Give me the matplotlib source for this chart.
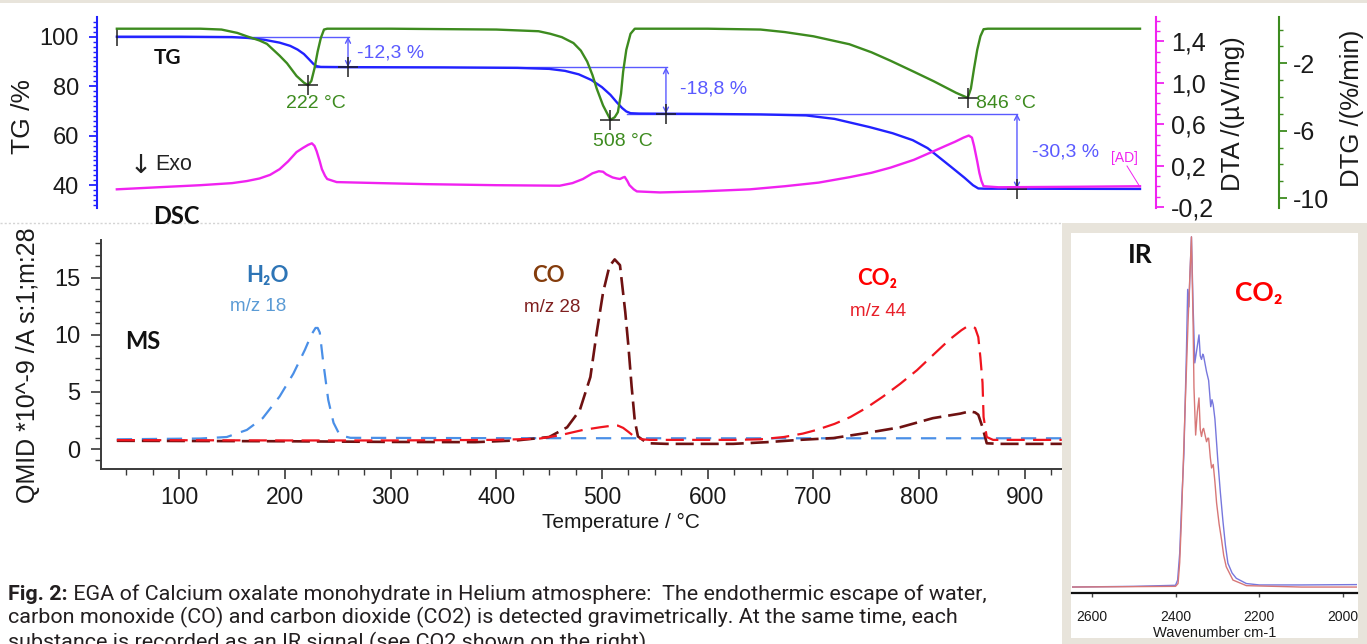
import numpy as np
import matplotlib
matplotlib.use("Agg")
import matplotlib.pyplot as plt
from matplotlib.ticker import MultipleLocator, FixedLocator, FuncFormatter, NullLocator
from matplotlib.patches import Rectangle
from matplotlib.lines import Line2D
from matplotlib.transforms import Bbox, TransformedBbox

plt.rcParams['font.family'] = ['Liberation Sans', 'DejaVu Sans']
plt.rcParams['lines.scale_dashes'] = False

# ---------------- data ----------------
# TG (mass %) vs temperature
tg_T = [41, 100, 150, 165, 180, 195, 205, 212, 218, 223, 227, 230, 234, 260, 350, 420, 450, 465,
        478, 490, 500, 508, 514, 519, 523, 527, 535, 600, 650, 693, 720, 753, 775, 794, 808, 818,
        830, 843, 851, 856, 862, 1009]
tg_val = [100.0, 100.0, 99.85, 99.5, 98.8, 97.6, 96.3, 94.8, 93.0, 90.8, 89.0, 88.1, 87.8, 87.7,
          87.6, 87.4, 87.0, 86.2, 84.8, 82.5, 79.6, 76.5, 73.5, 71.2, 69.8, 69.1, 68.95, 68.8, 68.6,
          68.2, 66.8, 63.5, 61.0, 58.2, 55.0, 51.6, 47.5, 43.0, 40.0, 38.7, 38.6, 38.5]
# DTG (%/min)
dtg_T = [41, 120, 140, 155, 164, 176, 183, 195, 202, 211, 218, 222, 225, 228, 231, 234, 237, 240,
         300, 400, 440, 451, 462, 473, 480, 486, 491, 495, 501, 508, 512, 515, 518, 520, 523, 527,
         531, 600, 650, 673, 700, 734, 755, 773, 795, 814, 835, 846, 849, 852, 855, 858, 861, 865, 1009]
dtg_val = [0.05, 0.05, 0.0, -0.2, -0.4, -0.65, -0.85, -1.55, -2.0, -2.75, -3.15, -3.3, -3.05, -2.3,
           -1.3, -0.5, 0.0, 0.05, 0.05, 0.0, -0.1, -0.25, -0.45, -0.8, -1.25, -1.9, -2.7, -3.5, -4.5,
           -5.35, -5.2, -4.9, -3.8, -2.5, -1.2, -0.25, 0.05, 0.05, 0.0, -0.15, -0.4, -0.87, -1.35,
           -1.85, -2.5, -3.07, -3.75, -4.05, -3.5, -2.3, -1.2, -0.4, 0.02, 0.05, 0.05]
# DTA (uV/mg)
dta_T = [41, 80, 120, 150, 164, 176, 186, 195, 203, 211, 217, 222, 225.5, 228, 230, 233, 235, 238,
         240, 249, 290, 334, 400, 460, 472, 482, 491, 497, 501, 504, 507, 510, 514, 517, 520, 521.5,
         524, 526, 530, 533, 555, 593, 640, 673, 705, 734, 755, 773, 795, 814, 825, 834, 842, 847,
         850, 852, 855, 857, 859, 861, 875, 950, 1009]
dta_val = [-0.03, -0.01, 0.01, 0.03, 0.05, 0.075, 0.11, 0.165, 0.24, 0.33, 0.37, 0.40, 0.415, 0.39,
           0.34, 0.24, 0.165, 0.10, 0.07, 0.04, 0.03, 0.02, 0.01, 0.005, 0.03, 0.07, 0.125, 0.145,
           0.14, 0.115, 0.10, 0.085, 0.075, 0.07, 0.085, 0.09, 0.05, 0.01, -0.03, -0.05, -0.06,
           -0.05, -0.03, 0.0, 0.035, 0.087, 0.13, 0.18, 0.255, 0.34, 0.39, 0.43, 0.47, 0.49, 0.47,
           0.39, 0.24, 0.13, 0.05, 0.0, -0.01, -0.005, 0.0]
# TG evaluation
step_levels = [100.0, 87.7, 68.9, 38.6]
step_labels = ["-12,3 %", "-18,8 %", "-30,3 %"]
step_arrow_T = [259.7, 560.5, 892.6]
tangent_start_T = [41, 228.5, 523.6]
tangent_end_T = [260.6, 561.5, 892.6]
peak_T = [222, 508, 846]
peak_dtg = [-3.3, -5.35, -4.05]
peak_labels = ["222 °C", "508 °C", "846 °C"]

# MS ion currents (10^-9 A)
ms_h2o_T = [41, 120, 145, 164, 179, 195, 208, 219, 225, 229, 231, 233, 236, 241, 246, 252, 262, 400,
            600, 800, 935]
ms_h2o = [0.85, 0.92, 1.05, 1.67, 2.7, 4.6, 6.6, 8.7, 10.0, 10.6, 10.6, 10.2, 7.8, 4.3, 2.3, 1.2,
          0.98, 0.95, 0.94, 0.94, 0.94]
ms_co_T = [41, 200, 300, 380, 419, 450, 467, 479, 489, 495, 501, 507, 512, 517, 522, 525, 528, 531,
           534, 540, 545, 561, 624, 656, 687, 719, 750, 782, 813, 839, 848, 853, 856, 860, 864, 877, 935]
ms_co = [0.72, 0.68, 0.62, 0.6, 0.75, 1.05, 1.9, 3.4, 6.3, 10.2, 13.7, 16.0, 16.6, 16.1, 12.0, 9.0,
         5.5, 2.5, 1.1, 0.7, 0.5, 0.45, 0.45, 0.6, 0.8, 0.96, 1.4, 1.9, 2.7, 3.1, 3.3, 3.2, 3.0, 1.9,
         0.5, 0.45, 0.45]
ms_co2_T = [41, 200, 300, 400, 440, 460, 482, 498, 510, 515, 520, 525, 531, 538, 545, 624, 650, 672,
            690, 703, 720, 735, 750, 766, 782, 798, 814, 829, 840, 845, 849, 853, 856, 858, 860, 861,
            864, 870, 935]
ms_co2 = [0.78, 0.75, 0.75, 0.8, 0.9, 1.2, 1.67, 1.9, 2.05, 2.05, 1.85, 1.5, 1.05, 0.85, 0.8, 0.8,
          0.85, 1.05, 1.35, 1.67, 2.2, 2.8, 3.6, 4.6, 5.7, 6.9, 8.3, 9.6, 10.4, 10.7, 10.75, 10.6,
          9.8, 8.0, 5.8, 2.8, 1.05, 0.8, 0.8]
ms_xticks = [100, 200, 300, 400, 500, 600, 700, 800, 900]
ms_yticks = [0, 5, 10, 15]

# IR spectra (CO2 band)
ir_blue_wn = [2650, 2500, 2400, 2395, 2390, 2385, 2380, 2374, 2371, 2368, 2366, 2362, 2358, 2354,
              2349, 2344, 2341, 2338, 2335, 2333, 2326, 2321, 2316, 2313, 2310, 2306, 2299, 2293,
              2287, 2281, 2275, 2265, 2255, 2231, 2200, 2100, 1967]
ir_blue = [0.0, 0.002, 0.005, 0.02, 0.097, 0.25, 0.38, 0.67, 0.85, 0.80, 0.88, 1.0, 0.80, 0.64,
           0.68, 0.72, 0.66, 0.65, 0.665, 0.66, 0.615, 0.59, 0.515, 0.535, 0.52, 0.48, 0.36, 0.27,
           0.19, 0.12, 0.068, 0.04, 0.025, 0.01, 0.006, 0.006, 0.007]
ir_red_wn = [2650, 2400, 2394, 2390, 2386, 2378, 2370, 2362, 2358, 2356, 2352, 2348, 2344, 2341,
             2338, 2335, 2333, 2326, 2323, 2321, 2317, 2314, 2310, 2306, 2302, 2296, 2290, 2285,
             2279, 2263, 2231, 2100, 1967]
ir_red = [0.0, 0.002, 0.01, 0.07, 0.19, 0.48, 0.76, 1.0, 0.75, 0.57, 0.434, 0.5, 0.54, 0.45, 0.43,
          0.45, 0.453, 0.415, 0.425, 0.425, 0.37, 0.34, 0.35, 0.30, 0.24, 0.18, 0.134, 0.09, 0.058,
          0.02, 0.004, 0.0, 0.0]
ir_xticks = [2600, 2400, 2200, 2000]

# ---------------- styling ----------------
TG_C = '#2222ff'
TAN_C = '#5a5aff'
DTG_C = '#3d8b1f'
DTA_C = '#f022f0'
H2O_C = '#4a8fe7'
CO_C = '#6e1111'
CO2_C = '#f0141e'
TXT = '#1a1a1a'
BEIGE = '#e8e4db'

W, H = 1367, 644
fig = plt.figure(figsize=(W / 100, H / 100), dpi=100, facecolor='white')


def fx(x):
    return x / W


def fy(y):
    return 1 - y / H


def box(l, t, r, b):
    return [l / W, 1 - b / H, (r - l) / W, (b - t) / H]


PX0, PXS = 73.5, 1.057


def t_of(x):
    return (x - PX0) / PXS


comma1 = FuncFormatter(lambda v, p: f"{v:.1f}".replace('.', ','))
intfmt = FuncFormatter(lambda v, p: f"{v:.0f}")

# background decorations
fig.patches.append(Rectangle((0, fy(3)), 1, 3 / H, transform=fig.transFigure,
                             facecolor=BEIGE, edgecolor='none', zorder=0))
fig.lines.append(Line2D([0, fx(1062)], [fy(222.5), fy(222.5)], transform=fig.transFigure,
                        color='#d4d4d4', lw=1.0, ls=(0, (1.5, 1.5)), zorder=0))

# ---------------- top panel: TG / DTA / DTG ----------------
ax_tg = fig.add_axes(box(97, 17, 1156, 208))
ax_tg.set_facecolor('none')
ax_tg.set_xlim(t_of(97), t_of(1156))
ax_tg.set_ylim(30.8, 107.96)
for s in ['top', 'right', 'bottom']:
    ax_tg.spines[s].set_visible(False)
ax_tg.spines['left'].set_color(TG_C)
ax_tg.spines['left'].set_linewidth(1.5)
ax_tg.xaxis.set_major_locator(NullLocator())
ax_tg.xaxis.set_minor_locator(NullLocator())
ax_tg.yaxis.set_major_locator(FixedLocator([40, 60, 80, 100]))
ax_tg.yaxis.set_minor_locator(MultipleLocator(2))
ax_tg.yaxis.set_major_formatter(intfmt)
ax_tg.tick_params(axis='y', which='major', length=6, width=1.3, color=TG_C, labelsize=17,
                  pad=7, labelcolor=TXT)
ax_tg.tick_params(axis='y', which='minor', length=3, width=1.0, color=TG_C)

ax_tg.plot(tg_T, tg_val, color=TG_C, lw=1.7, zorder=3)
for t0, t1, lev in zip(tangent_start_T, tangent_end_T, step_levels[:3]):
    ax_tg.plot([t0, t1], [lev, lev], color=TAN_C, lw=1.0, zorder=2)
for i, ta in enumerate(step_arrow_T):
    ax_tg.annotate('', xy=(ta, step_levels[i]), xytext=(ta, step_levels[i + 1]),
                   arrowprops=dict(arrowstyle='<->', color=TAN_C, lw=1.0, shrinkA=0, shrinkB=0,
                                   mutation_scale=9), zorder=4)
ax_tg.plot(step_arrow_T, step_levels[1:], ls='none', marker='+', ms=14, mew=1.1,
           color='#202020', zorder=5)
ax_tg.plot([tangent_start_T[0]], [step_levels[0]], ls='none', marker='|', ms=13, mew=1.1,
           color='#202020', zorder=5)

ax_dta = ax_tg.twinx()
ax_dta.set_ylim(-0.2105, 1.636)
for s in ['top', 'left', 'bottom']:
    ax_dta.spines[s].set_visible(False)
ax_dta.spines['right'].set_color(DTA_C)
ax_dta.spines['right'].set_linewidth(1.5)
ax_dta.yaxis.set_major_locator(FixedLocator([-0.2, 0.2, 0.6, 1.0, 1.4]))
ax_dta.yaxis.set_minor_locator(MultipleLocator(0.1))
ax_dta.yaxis.set_major_formatter(comma1)
ax_dta.tick_params(axis='y', which='major', length=6, width=1.3, color=DTA_C, labelsize=18,
                   pad=5, labelcolor=TXT)
ax_dta.tick_params(axis='y', which='minor', length=3, width=1.0, color=DTA_C)
ax_dta.plot(dta_T, dta_val, color=DTA_C, lw=1.7, zorder=3)

ax_dtg = ax_tg.twinx()
ax_dtg.set_ylim(-10.58, 0.744)
for s in ['top', 'left', 'bottom']:
    ax_dtg.spines[s].set_visible(False)
ax_dtg.spines['right'].set_position(('axes', (1279 - 97) / (1156 - 97)))
ax_dtg.spines['right'].set_color(DTG_C)
ax_dtg.spines['right'].set_linewidth(1.5)
ax_dtg.yaxis.set_major_locator(FixedLocator([-10, -6, -2]))
ax_dtg.yaxis.set_minor_locator(MultipleLocator(1))
ax_dtg.yaxis.set_major_formatter(intfmt)
ax_dtg.tick_params(axis='y', which='major', length=6, width=1.3, color=DTG_C, labelsize=18,
                   pad=4, labelcolor=TXT)
ax_dtg.tick_params(axis='y', which='minor', length=3, width=1.0, color=DTG_C)
ax_dtg.plot(dtg_T, dtg_val, color=DTG_C, lw=1.7, zorder=3)
ax_dtg.plot(peak_T, peak_dtg, ls='none', marker='+', ms=14, mew=1.1, color='#202020', zorder=5)

# top panel texts
bold_fam = ['Lato', 'Noto Sans', 'DejaVu Sans']
fig.text(fx(168), fy(58), "TG", fontsize=15, fontweight='bold', family=bold_fam, color='#111',
         ha='center', va='center')
fig.text(fx(141), fy(166), "↓", fontsize=19, family=['DejaVu Sans'], color='#222',
         ha='center', va='center')
fig.text(fx(155), fy(165), "Exo", fontsize=15.5, color='#222', ha='left', va='center')
fig.text(fx(176), fy(216), "DSC", fontsize=17, fontweight='bold', family=bold_fam, color='#111',
         ha='center', va='center')
fig.text(fx(316), fy(104), peak_labels[0], fontsize=14, color=DTG_C, ha='center', va='center')
fig.text(fx(623), fy(142), peak_labels[1], fontsize=14, color=DTG_C, ha='center', va='center')
fig.text(fx(976), fy(104), peak_labels[2], fontsize=14, color=DTG_C, ha='left', va='center')
fig.text(fx(357), fy(53), step_labels[0], fontsize=14, color=TAN_C, ha='left', va='center')
fig.text(fx(680), fy(89), step_labels[1], fontsize=14, color=TAN_C, ha='left', va='center')
fig.text(fx(1032), fy(152), step_labels[2], fontsize=14, color=TAN_C, ha='left', va='center')
fig.text(fx(1111), fy(158), "[AD]", fontsize=10, color=DTA_C, ha='left', va='center')
fig.lines.append(Line2D([fx(1127), fx(1140)], [fy(166), fy(187)], transform=fig.transFigure,
                        color=DTA_C, lw=0.7))
fig.text(fx(23), fy(116), "TG /%", fontsize=19, rotation=90, ha='center', va='center', color=TXT)
fig.text(fx(1233), fy(114), "DTA /(µV/mg)", fontsize=18.5, rotation=90, ha='center', va='center',
         color=TXT)
fig.text(fx(1352), fy(108), "DTG /(%/min)", fontsize=18.5, rotation=90, ha='center', va='center',
         color=TXT)

# ---------------- MS panel ----------------
ax_ms = fig.add_axes(box(101, 240, 1062, 469))
ax_ms.set_facecolor('none')
ax_ms.set_xlim(t_of(101), t_of(1062))
ax_ms.set_ylim(-1.75, 18.3)
for s in ['top', 'right']:
    ax_ms.spines[s].set_visible(False)
for s in ['left', 'bottom']:
    ax_ms.spines[s].set_color('#3a3a3a')
    ax_ms.spines[s].set_linewidth(1.4)
ax_ms.xaxis.set_major_locator(FixedLocator(ms_xticks))
ax_ms.xaxis.set_minor_locator(MultipleLocator(25))
ax_ms.yaxis.set_major_locator(FixedLocator(ms_yticks))
ax_ms.yaxis.set_minor_locator(MultipleLocator(1))
ax_ms.tick_params(axis='both', which='major', length=7, width=1.2, color='#3a3a3a', labelsize=17,
                  labelcolor=TXT)
ax_ms.tick_params(axis='x', which='major', pad=5, labelsize=16.5)
ax_ms.tick_params(axis='y', which='major', pad=8)
ax_ms.tick_params(axis='both', which='minor', length=4, width=1.0, color='#3a3a3a')

ax_ms.plot(ms_h2o_T, ms_h2o, color=H2O_C, lw=1.6, dashes=(11, 7))
ax_ms.plot(ms_co_T, ms_co, color=CO_C, lw=1.9, dashes=(13, 5))
ax_ms.plot(ms_co2_T, ms_co2, color=CO2_C, lw=1.6, dashes=(13, 6))

fig.text(fx(143), fy(342), "MS", fontsize=17, fontweight='bold', family=bold_fam, color='#111',
         ha='center', va='center')
fig.text(fx(267), fy(275), "H₂O", fontsize=16, fontweight='bold', family=bold_fam, color='#2e75b6',
         ha='center', va='center')
fig.text(fx(258), fy(307), "m/z 18", fontsize=13.5, color='#5b9bd5', ha='center', va='center')
fig.text(fx(548), fy(275), "CO", fontsize=16, fontweight='bold', family=bold_fam, color='#843c0c',
         ha='center', va='center')
fig.text(fx(552), fy(308), "m/z 28", fontsize=13.5, color='#7f1f1f', ha='center', va='center')
fig.text(fx(877), fy(279), "CO₂", fontsize=16, fontweight='bold', family=bold_fam, color='#ff0000',
         ha='center', va='center')
fig.text(fx(878), fy(311), "m/z 44", fontsize=13.5, color='#e8202a', ha='center', va='center')
fig.text(fx(621), fy(522), "Temperature / °C", fontsize=15, color=TXT, ha='center', va='center')
ylab = fig.text(fx(28), fy(503), "QMID *10^-9 /A s:1;m:28", fontsize=18, rotation=90,
                ha='center', va='bottom', color=TXT)
ylab.set_clip_box(TransformedBbox(Bbox([[0, 0], [1, fy(227)]]), fig.transFigure))
ylab.set_clip_on(True)

# ---------------- IR inset ----------------
fig.patches.append(Rectangle((fx(1062), 0), 1 - fx(1062), fy(223), transform=fig.transFigure,
                             facecolor=BEIGE, edgecolor='none', zorder=1))
fig.patches.append(Rectangle((fx(1071), fy(638)), fx(1358) - fx(1071), fy(233) - fy(638),
                             transform=fig.transFigure, facecolor='white', edgecolor='none',
                             zorder=1.5))
ax_ir = fig.add_axes(box(1072, 233, 1357, 593))
ax_ir.set_zorder(3)
ax_ir.set_facecolor('white')
ax_ir.set_xlim(2647, 1967)
ax_ir.set_ylim(-0.017, 1.011)
for s in ['top', 'right', 'left']:
    ax_ir.spines[s].set_visible(False)
ax_ir.spines['bottom'].set_color('#111')
ax_ir.spines['bottom'].set_linewidth(1.6)
ax_ir.yaxis.set_major_locator(NullLocator())
ax_ir.xaxis.set_major_locator(FixedLocator(ir_xticks))
ax_ir.tick_params(axis='x', length=3, width=1, color='#444', labelsize=10, pad=9, labelcolor=TXT)
ax_ir.plot(ir_blue_wn, ir_blue, color='#7777dd', lw=1.0, clip_on=True)
ax_ir.plot(ir_red_wn, ir_red, color='#d77777', lw=1.0, clip_on=True)
fig.text(fx(1140), fy(255), "IR", fontsize=19, fontweight='bold', family=bold_fam, color='#111',
         ha='center', va='center', zorder=5)
fig.text(fx(1259), fy(293), "CO₂", fontsize=19, fontweight='bold', family=bold_fam,
         color='#ff0000', ha='center', va='center', zorder=5)
fig.text(fx(1215), fy(633), "Wavenumber cm-1", fontsize=10.5, color=TXT, ha='center',
         va='center', zorder=5)

# ---------------- caption ----------------
cap_fam = ['Roboto', 'DejaVu Sans']
CAP_C = '#231f20'
cap1_b = "Fig. 2:"
cap1_r = " EGA of Calcium oxalate monohydrate in Helium atmosphere:  The endothermic escape of water,"
cap2 = "carbon monoxide (CO) and carbon dioxide (CO2) is detected gravimetrically. At the same time, each"
cap3 = "substance is recorded as an IR signal (see CO2 shown on the right)."
rend = fig.canvas.get_renderer()
fs = 14.0
tb = fig.text(fx(8), fy(600), cap1_b, fontsize=fs, fontweight='bold', family=cap_fam,
              va='baseline', ha='left', color=CAP_C)
tr = fig.text(fx(60), fy(600), cap1_r, fontsize=fs, family=cap_fam, va='baseline', ha='left',
              color=CAP_C)
tot = tb.get_window_extent(rend).width + tr.get_window_extent(rend).width
fs2 = fs * 982.0 / tot
tb.set_fontsize(fs2)
tr.set_fontsize(fs2)
tr.set_x(fx(8 + tb.get_window_extent(rend).width))
fig.text(fx(8), fy(623), cap2, fontsize=fs2, family=cap_fam, va='baseline', ha='left', color=CAP_C)
fig.text(fx(8), fy(648), cap3, fontsize=fs2, family=cap_fam, va='baseline', ha='left', color=CAP_C)

fig.savefig("out.png", dpi=100, facecolor='white')
